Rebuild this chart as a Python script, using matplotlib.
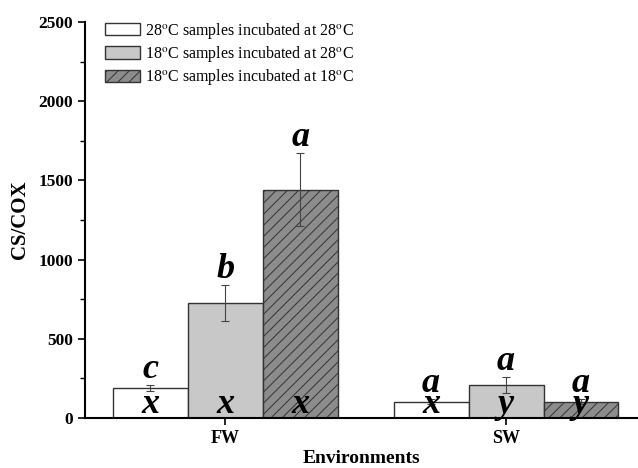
import matplotlib.pyplot as plt
import numpy as np

plt.rcParams['font.family'] = ['Liberation Serif', 'DejaVu Serif']
plt.rcParams['mathtext.fontset'] = 'stix'
plt.rcParams['hatch.linewidth'] = 0.7
plt.rcParams['hatch.color'] = '#333333'

environments = ["FW", "SW"]
series_labels = [r"28$^\mathrm{o}$C samples incubated at 28$^\mathrm{o}$C",
                 r"18$^\mathrm{o}$C samples incubated at 28$^\mathrm{o}$C",
                 r"18$^\mathrm{o}$C samples incubated at 18$^\mathrm{o}$C"]
means = [[190, 103], [725, 208], [1440, 103]]
errors = [[18, 14], [115, 52], [230, 14]]
top_letters = [["c", "a"], ["b", "a"], ["a", "a"]]
inner_letters = [["x", "x"], ["x", "y"], ["x", "y"]]

colors = ["white", "#c8c8c8", "#8c8c8c"]
hatches = [None, None, "///"]

fig = plt.figure(figsize=(6.38, 4.68), dpi=100)
ax = fig.add_axes([0.133, 0.107, 0.867, 0.846])

x = np.arange(1, len(environments) + 1)
width = 0.267
for i in range(3):
    pos = x + (i - 1) * width
    ax.bar(pos, means[i], width, color=colors[i], edgecolor="#333333",
           linewidth=1.0, hatch=hatches[i], label=series_labels[i], zorder=2)
    ax.errorbar(pos, means[i], yerr=errors[i], fmt="none", ecolor="#444444",
                elinewidth=0.8, capsize=3, capthick=0.8, zorder=3)
    for j in range(len(environments)):
        ax.text(pos[j], means[i][j] + errors[i][j] + 45, top_letters[i][j],
                ha="center", va="baseline", fontsize=26, fontweight="bold",
                style="italic", zorder=4)
        ax.text(pos[j], 30, inner_letters[i][j], ha="center", va="baseline",
                fontsize=26, fontweight="bold", style="italic", zorder=4)

ax.set_xlim(0.5, 2.47)
ax.set_ylim(0, 2500)
ax.set_xticks(x)
ax.set_xticklabels(environments, fontsize=13, fontweight="bold")
ax.set_yticks(np.arange(0, 2501, 500))
ax.set_yticks(np.arange(0, 2501, 250), minor=True)
for lbl in ax.get_yticklabels():
    lbl.set_fontweight("bold")
    lbl.set_fontsize(12.5)
ax.tick_params(axis="both", which="major", direction="out", length=5, width=1.2)
ax.tick_params(axis="y", which="minor", direction="out", length=3.5, width=1.0)
ax.spines["top"].set_visible(False)
ax.spines["right"].set_visible(False)
ax.spines["left"].set_linewidth(1.5)
ax.spines["bottom"].set_linewidth(1.5)

ax.set_xlabel("Environments", fontsize=14, fontweight="bold", labelpad=2)
ax.set_ylabel("CS/COX", fontsize=15, fontweight="bold", labelpad=6)

ax.legend(loc="upper left", bbox_to_anchor=(0.036, 1.003), frameon=False,
          fontsize=11.5, handlelength=2.2, handleheight=0.8, handletextpad=0.3,
          labelspacing=0.2, borderaxespad=0, borderpad=0)

fig.savefig("out.png", dpi=100)
